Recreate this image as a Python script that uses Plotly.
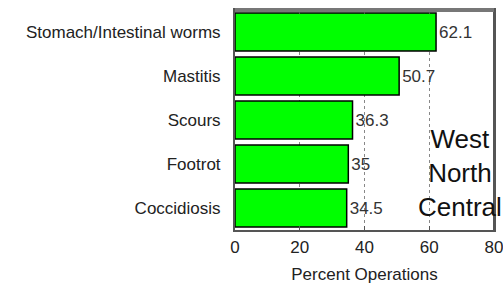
import plotly.graph_objects as go

categories = ["Stomach/Intestinal worms", "Mastitis", "Scours", "Footrot", "Coccidiosis"]
values = [62.1, 50.7, 36.3, 35, 34.5]
value_labels = ["62.1", "50.7", "36.3", "35", "34.5"]
x_ticks = [0, 20, 40, 60, 80]

FONT = "Liberation Sans, Arial, sans-serif"

fig = go.Figure(go.Bar(
    x=values, y=categories, orientation="h",
    marker=dict(color="#00ff00", line=dict(color="#000000", width=1.5)),
    text=value_labels, textposition="outside", cliponaxis=False,
    textfont=dict(family=FONT, size=17, color="#333333"),
))

fig.update_layout(
    width=503, height=285,
    margin=dict(l=235, r=9, t=10, b=55),
    paper_bgcolor="white", plot_bgcolor="white",
    showlegend=False, bargap=0.14,
    font=dict(family=FONT, size=17, color="#222222"),
    annotations=[dict(
        text="West<br>North<br>Central", xref="paper", yref="paper",
        x=0.868, y=0.259, xanchor="center", yanchor="middle",
        showarrow=False, align="center",
        font=dict(family=FONT, size=26, color="#111111"),
    )],
    shapes=[
        dict(type="line", xref="paper", yref="paper", x0=1, x1=1, y0=0, y1=1,
             line=dict(color="#555555", width=2), layer="below"),
        dict(type="line", xref="paper", yref="paper", x0=0, x1=1, y0=1, y1=1,
             line=dict(color="#777777", width=4), layer="above"),
    ],
)
fig.update_xaxes(
    range=[0, 80], tickvals=x_ticks, ticktext=[str(v) for v in x_ticks],
    showgrid=True, gridcolor="#888888", griddash="dot", gridwidth=1,
    showline=True, mirror="ticks", linecolor="#555555", linewidth=2,
    ticks="inside", ticklen=4, tickcolor="#555555",
    zeroline=False, automargin=False, ticklabeloverflow="allow",
    title=dict(text="Percent Operations", standoff=12, font=dict(size=17)),
    tickfont=dict(size=17, color="#222222"),
    ticklabelstandoff=1,
)
fig.update_yaxes(
    autorange="reversed", showgrid=False, automargin=False,
    showline=True, mirror=True, linecolor="#555555", linewidth=2,
    ticks="", ticklabelstandoff=9,
    tickfont=dict(size=17, color="#222222"),
)

fig.write_html(
    "out.html",
    config={"displayModeBar": False},
    post_script="document.body.style.margin='0';"
                "document.body.style.overflow='hidden';"
                "document.documentElement.style.overflow='hidden';",
)
